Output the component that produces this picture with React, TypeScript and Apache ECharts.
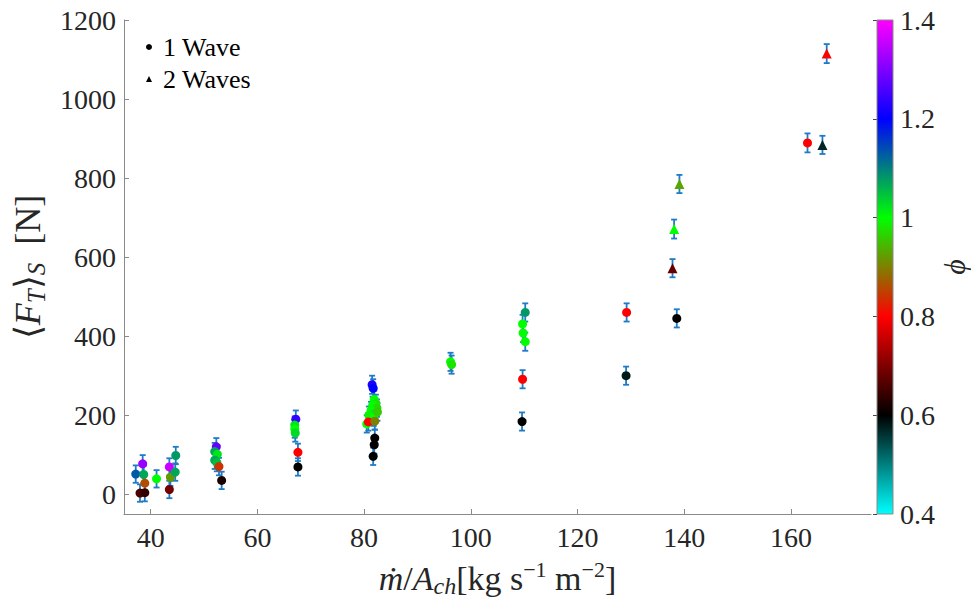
import React, { useEffect, useRef } from "react";
import * as echarts from "echarts";

// ---- data ----
// 1 Wave (circles)
const wave1X = [
  37.2, 38.5, 38.7, 38.9, 38.0, 38.9, 41.1,
  43.5, 44.7, 43.7, 44.6, 43.5,
  52.3, 52.0, 52.5, 52.0, 52.4, 52.8, 53.3,
  67.2, 67.0, 67.0, 67.1, 67.6, 67.6,
  81.5, 81.7, 81.9, 82.2, 81.6, 82.4, 81.3, 82.0, 80.9, 81.8, 82.5, 80.5, 80.8, 82.0, 82.0, 81.9, 81.7,
  96.2, 96.4,
  110.2, 109.7, 109.8, 110.2, 109.7, 109.6,
  129.2, 129.1, 138.6, 163.1,
];
const wave1Y = [
  51, 77, 50, 28, 3, 4, 39,
  69, 98, 43, 56, 12,
  120, 108, 101, 86, 80, 70, 35,
  190, 175, 165, 155, 106, 69,
  277, 268, 240, 230, 225, 218, 212, 205, 200, 195, 208, 178, 183, 185, 142, 125, 96,
  335, 328,
  460, 431, 408, 386, 291, 184,
  460, 300, 445, 889,
];
const wave1Phi = [
  1.13, 1.32, 1.07, 0.86, 0.66, 0.64, 1.0,
  1.36, 1.08, 0.92, 1.07, 0.69,
  1.28, 1.07, 1.02, 1.07, 1.05, 0.84, 0.62,
  1.24, 1.02, 1.0, 1.03, 0.8, 0.6,
  1.22, 1.2, 1.0, 0.98, 1.0, 0.97, 1.0, 1.02, 0.99, 1.0, 0.96, 1.0, 0.8, 0.9, 0.6, 0.6, 0.6,
  1.0, 0.98,
  1.08, 1.0, 1.0, 1.0, 0.8, 0.6,
  0.8, 0.58, 0.6, 0.8,
];
const wave1Err = [
  22, 22, 22, 22, 22, 22, 22,
  22, 22, 22, 22, 22,
  22, 22, 22, 22, 22, 22, 22,
  22, 22, 22, 22, 22, 22,
  23, 23, 22, 22, 22, 22, 22, 22, 22, 22, 22, 22, 22, 22, 22, 22, 22,
  23, 23,
  23, 23, 23, 23, 23, 23,
  23, 23, 23, 24,
];
// 2 Waves (triangles)
const wave2X = [137.8, 138.1, 139.1, 165.9, 166.7];
const wave2Y = [572, 671, 785, 884, 1115];
const wave2Phi = [0.68, 1.0, 0.93, 0.57, 0.8];
const wave2Err = [23, 24, 23, 23, 24];

// colour map for phi from 0.4 to 1.4 (evenly spaced stops)
const PHI_MIN = 0.4;
const PHI_MAX = 1.4;
const COLORMAP = ["#00ffff", "#000000", "#ff0000", "#00ff00", "#0000ff", "#ff00ff"];

const X_MIN = 35;
const X_MAX = 175;
const Y_MIN = -50;
const Y_MAX = 1200;

const ERR_COLOR = "#1f7bc6";
const AXIS_COLOR = "#8a8a8a";
const TEXT_COLOR = "#262626";
const FONT = "Liberation Serif";

export default function App() {
  const ref = useRef<HTMLDivElement>(null);

  useEffect(() => {
    if (!ref.current) return;
    const chart = echarts.init(ref.current, null, { renderer: "svg" });

    const d1 = wave1X.map((x, i) => [x, wave1Y[i], wave1Phi[i]]);
    const d2 = wave2X.map((x, i) => [x, wave2Y[i], wave2Phi[i]]);
    const errData = [
      ...wave1X.map((x, i) => [x, wave1Y[i], wave1Err[i]]),
      ...wave2X.map((x, i) => [x, wave2Y[i], wave2Err[i]]),
    ];

    const n = COLORMAP.length;
    // top of the bar = PHI_MAX, so reverse the map for a top-to-bottom gradient
    const gradStops = COLORMAP.slice()
      .reverse()
      .map((c, i) => ({ offset: i / (n - 1), color: c }));

    const richBig = (size: number) => ({
      i: { fontSize: size, fontStyle: "italic", fontFamily: FONT, color: TEXT_COLOR, lineHeight: size + 6, verticalAlign: "middle" },
      r: { fontSize: size, fontFamily: FONT, color: TEXT_COLOR, lineHeight: size + 6, verticalAlign: "middle" },
      sub: { fontSize: Math.round(size * 0.7), fontStyle: "italic", fontFamily: FONT, color: TEXT_COLOR, lineHeight: Math.round(size * 0.72), verticalAlign: "bottom" },
      sup: { fontSize: Math.round(size * 0.66), fontFamily: FONT, color: TEXT_COLOR, lineHeight: Math.round(size * 0.72), verticalAlign: "top" },
    });

    const option: any = {
      animation: false,
      backgroundColor: "#ffffff",
      textStyle: { fontFamily: FONT },
      grid: [
        { left: 124, top: 20, width: 747, height: 494, containLabel: false, outerBoundsMode: "none" },
        { left: 877, top: 20, width: 16, height: 494, containLabel: false, outerBoundsMode: "none" },
      ],
      xAxis: [
        {
          type: "value",
          gridIndex: 0,
          min: X_MIN,
          max: X_MAX,
          splitNumber: 7,
          splitLine: { show: false },
          axisLine: { show: true, onZero: false, lineStyle: { color: AXIS_COLOR, width: 1 } },
          axisTick: { show: true, inside: true, length: 5, lineStyle: { color: AXIS_COLOR } },
          axisLabel: {
            showMinLabel: false,
            showMaxLabel: false,
            color: TEXT_COLOR,
            fontSize: 28,
            fontFamily: FONT,
            margin: 9,
            formatter: (v: number) => String(v),
          },
          name: "{i|ṁ}{r|/}{i|A}{sub|ch}{r|[kg s}{sup|−1}{r| m}{sup|−2}{r|]}",
          nameLocation: "middle",
          nameGap: 44,
          nameTextStyle: { color: TEXT_COLOR, fontFamily: FONT, rich: richBig(34) },
        },
        {
          type: "value",
          gridIndex: 1,
          min: 0,
          max: 1,
          show: false,
        },
      ],
      yAxis: [
        {
          type: "value",
          gridIndex: 0,
          min: Y_MIN,
          max: Y_MAX,
          splitNumber: 6,
          splitLine: { show: false },
          axisLine: { show: true, onZero: false, lineStyle: { color: AXIS_COLOR, width: 1 } },
          axisTick: { show: true, inside: true, length: 5, lineStyle: { color: AXIS_COLOR } },
          axisLabel: {
            showMinLabel: false,
            color: TEXT_COLOR,
            fontSize: 28,
            fontFamily: FONT,
            margin: 8,
            formatter: (v: number) => String(v),
          },
          name: "{r|⟨}{i|F}{sub|T}{r|⟩}{sub|S}{r|  [N]}",
          nameLocation: "middle",
          nameRotate: 90,
          nameGap: 70,
          nameTextStyle: { color: TEXT_COLOR, fontFamily: FONT, rich: richBig(36) },
        },
        {
          type: "value",
          gridIndex: 1,
          min: PHI_MIN,
          max: PHI_MAX,
          interval: 0.2,
          position: "right",
          splitLine: { show: false },
          axisLine: { show: false },
          axisTick: { show: true, inside: true, length: 4, lineStyle: { color: "#444" } },
          axisLabel: {
            color: TEXT_COLOR,
            fontSize: 28,
            fontFamily: FONT,
            margin: 7,
            formatter: (v: number) => String(Math.round(v * 10) / 10),
          },
          name: "ϕ",
          nameLocation: "middle",
          nameRotate: 90,
          nameGap: 46,
          nameTextStyle: { color: TEXT_COLOR, fontSize: 30, fontStyle: "italic", fontFamily: FONT },
        },
      ],
      visualMap: {
        type: "continuous",
        show: false,
        min: PHI_MIN,
        max: PHI_MAX,
        dimension: 2,
        seriesIndex: [1, 2],
        inRange: { color: COLORMAP },
      },
      legend: {
        orient: "vertical",
        left: 141,
        top: 29,
        itemWidth: 6,
        itemHeight: 6,
        itemGap: 6,
        textStyle: { fontSize: 26, fontFamily: FONT, color: "#000", lineHeight: 26, padding: [0, 0, 0, 6] },
        data: [
          { name: "1 Wave", icon: "circle", itemStyle: { color: "#000" } },
          { name: "2 Waves", icon: "triangle", itemStyle: { color: "#000" } },
        ],
      },
      series: [
        {
          type: "custom",
          name: "errors",
          xAxisIndex: 0,
          yAxisIndex: 0,
          silent: true,
          z: 1,
          data: errData,
          encode: { x: 0, y: 1 },
          renderItem: (params: any, api: any) => {
            const x = api.value(0);
            const y = api.value(1);
            const e = api.value(2);
            const top = api.coord([x, y + e]);
            const bot = api.coord([x, y - e]);
            const cap = 3;
            const style = { stroke: ERR_COLOR, lineWidth: 1.8 };
            return {
              type: "group",
              children: [
                { type: "line", shape: { x1: top[0], y1: top[1], x2: bot[0], y2: bot[1] }, style },
                { type: "line", shape: { x1: top[0] - cap, y1: top[1], x2: top[0] + cap, y2: top[1] }, style },
                { type: "line", shape: { x1: bot[0] - cap, y1: bot[1], x2: bot[0] + cap, y2: bot[1] }, style },
              ],
            };
          },
        },
        {
          type: "scatter",
          name: "1 Wave",
          xAxisIndex: 0,
          yAxisIndex: 0,
          symbol: "circle",
          symbolSize: 9,
          z: 3,
          itemStyle: { color: "#000", opacity: 1 },
          data: d1,
        },
        {
          type: "scatter",
          name: "2 Waves",
          xAxisIndex: 0,
          yAxisIndex: 0,
          symbol: "triangle",
          symbolSize: 10,
          z: 3,
          itemStyle: { color: "#000", opacity: 1 },
          data: d2,
        },
        {
          type: "custom",
          name: "colorbar",
          xAxisIndex: 1,
          yAxisIndex: 1,
          silent: true,
          data: [[0, PHI_MIN, 1, PHI_MAX]],
          encode: { x: [0, 2], y: [1, 3] },
          renderItem: (params: any, api: any) => {
            const p1 = api.coord([api.value(0), api.value(3)]);
            const p2 = api.coord([api.value(2), api.value(1)]);
            return {
              type: "rect",
              shape: { x: p1[0], y: p1[1], width: p2[0] - p1[0], height: p2[1] - p1[1] },
              style: {
                fill: new echarts.graphic.LinearGradient(0, 0, 0, 1, gradStops),
                stroke: AXIS_COLOR,
                lineWidth: 1,
              },
              z2: -1,
            };
          },
        },
      ],
    };

    chart.setOption(option);
    return () => chart.dispose();
  }, []);

  return (
    <div
      ref={ref}
      style={{ position: "fixed", left: 0, top: 0, width: 971, height: 600, background: "#fff" }}
    />
  );
}
